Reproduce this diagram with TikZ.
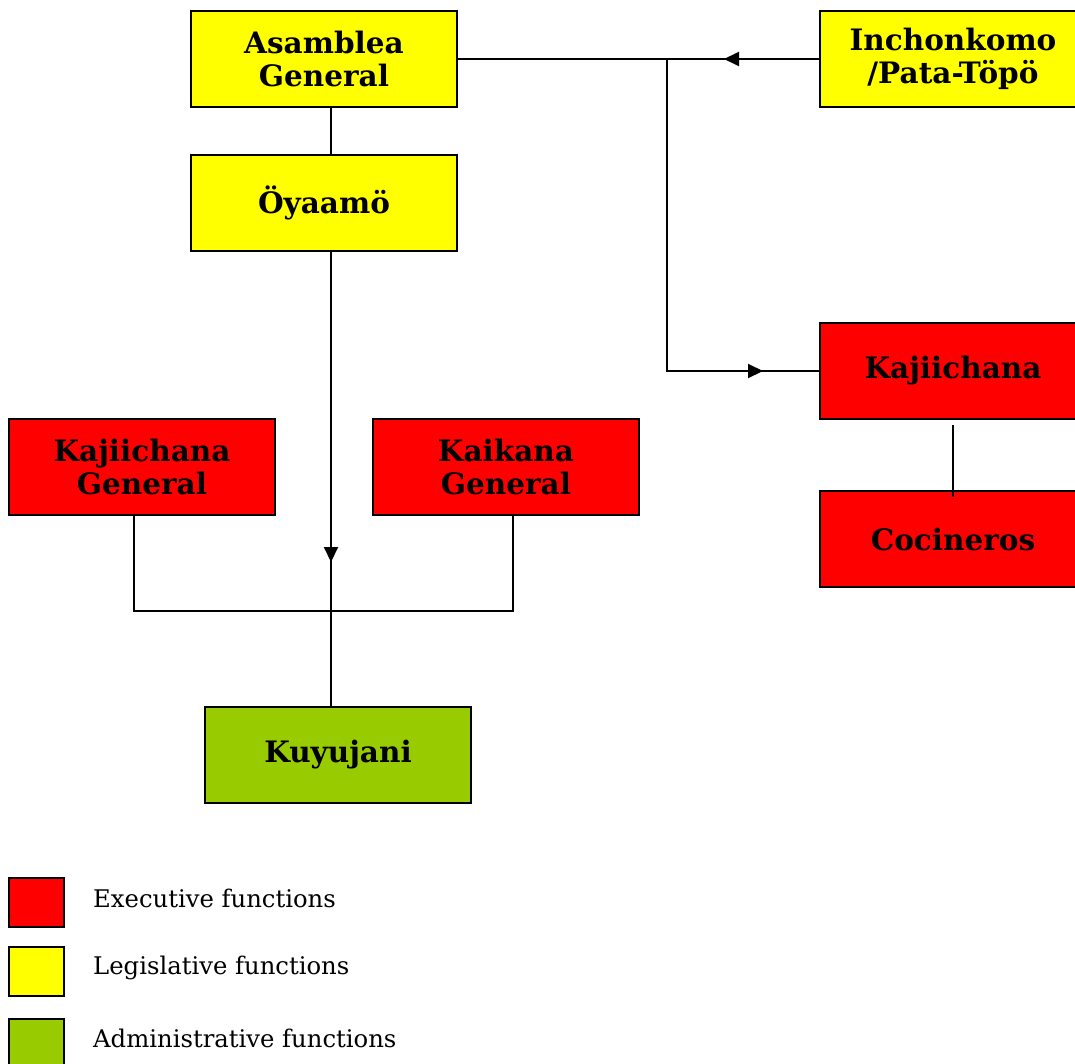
\documentclass[tikz,border=0pt]{standalone}
\usepackage{fontspec}
\setmainfont{DejaVu Serif}
\usetikzlibrary{arrows.meta,calc}
\definecolor{exred}{HTML}{FF0000}
\definecolor{lgyellow}{HTML}{FFFF00}
\definecolor{adgreen}{HTML}{99CC00}
\begin{document}
\begin{tikzpicture}[x=1pt,y=-1pt,
  orgbox/.style={draw=black,line width=2pt,minimum width=266pt,minimum height=96pt,inner sep=0pt,
    align=center,font=\fontsize{29.5}{33}\selectfont\bfseries},
  conn/.style={line width=2pt},
  tip/.style={line width=2pt,-{Triangle[length=15pt,width=14pt]}},
  legbox/.style={draw=black,line width=2pt,minimum width=55pt,minimum height=49pt,inner sep=0pt},
  legtxt/.style={anchor=west,inner sep=0pt,font=\fontsize{24.3}{28}\selectfont}]
\useasboundingbox (0,0) rectangle (1075,1063);
\begin{scope}
\clip (0,0) rectangle (1075,1063);
% boxes
\node[orgbox,fill=lgyellow] (asm) at (324,59) {Asamblea\\General};
\node[orgbox,fill=lgyellow] (inch) at (953,59) {Inchonkomo\\/Pata-Töpö};
\node[orgbox,fill=lgyellow] (oya) at (324,203) {Öyaamö};
\node[orgbox,fill=exred] (kaj) at (953,371) {Kajiichana};
\node[orgbox,fill=exred] (coc) at (953,539) {Cocineros};
\node[orgbox,fill=exred] (kajg) at (142,467) {Kajiichana\\General};
\node[orgbox,fill=exred] (kaig) at (506,467) {Kaikana\\General};
\node[orgbox,fill=adgreen] (kuy) at (338,755) {Kuyujani};
% coordinates
\coordinate (j1) at (667,59);
\coordinate (j2) at (667,371);
\coordinate (a1) at (724,59);
\coordinate (a2) at (763,371);
\coordinate (a3) at (331,562);
\coordinate (ot) at (331,107);
\coordinate (ob) at (331,155);
\coordinate (os) at (331,251);
\coordinate (ks) at (331,707);
\coordinate (lb) at (134,515);
\coordinate (lc) at (134,611);
\coordinate (rc) at (513,611);
\coordinate (rb) at (513,515);
\coordinate (c1) at (953,425);
\coordinate (c2) at (953,497);
% connectors
\draw[conn] (ot) -- (ob);
\draw[conn] (asm.east) -- (inch.west);
\draw[tip] (inch.west) -- (a1);
\draw[conn] (j1) -- (j2) -- (kaj.west);
\draw[tip] (j2) -- (a2);
\draw[conn] (os) -- (ks);
\draw[tip] (os) -- (a3);
\draw[conn] (lb) -- (lc) -- (rc) -- (rb);
\draw[conn] (c1) -- (c2);
% legend
\node[legbox,fill=exred] (l1) at (36.5,902.5) {};
\node[legbox,fill=lgyellow] (l2) at (36.5,971.5) {};
\node[legbox,fill=adgreen] (l3) at (36.5,1043.5) {};
\node[legtxt] (t1) at (93,898) {Executive functions};
\node[legtxt] (t2) at (93,968) {Legislative functions};
\node[legtxt] (t3) at (93,1038) {Administrative functions};
\end{scope}
\end{tikzpicture}
\end{document}
